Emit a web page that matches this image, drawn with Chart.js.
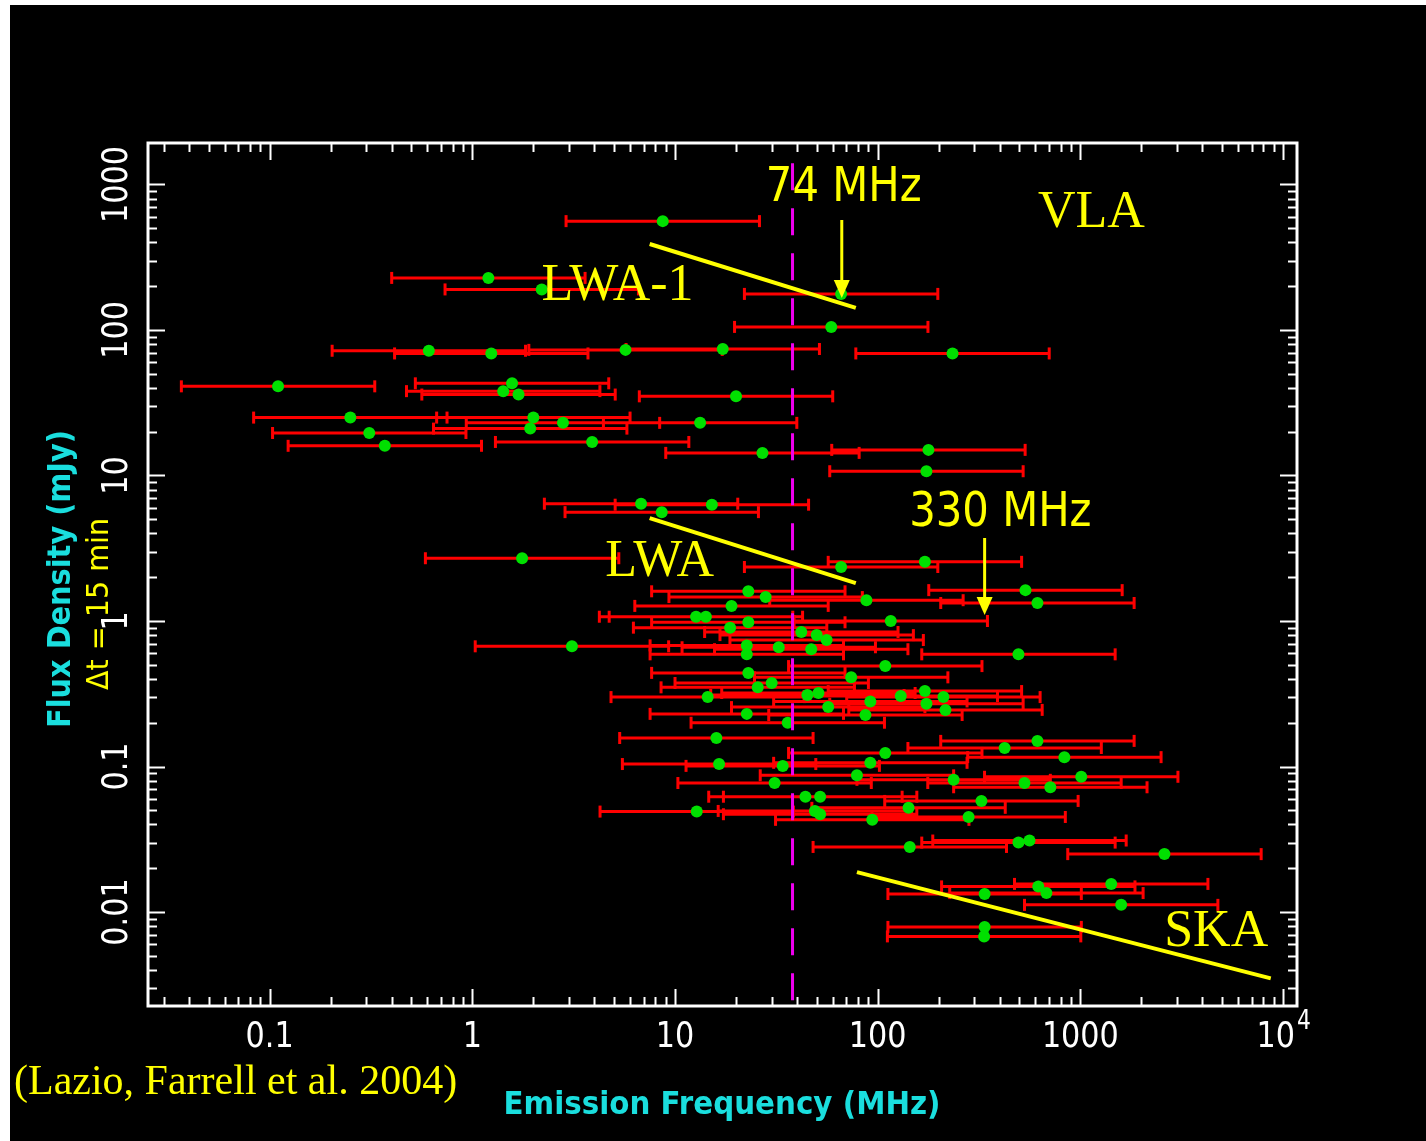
<!DOCTYPE html>
<html>
<head>
<meta charset="utf-8">
<script src="https://cdn.jsdelivr.net/npm/chart.js@4.4.1/dist/chart.umd.min.js"></script>
<style>
html, body { margin: 0; padding: 0; background: #fff; }
canvas { display: block; }
</style>
</head>
<body>
<canvas id="graphique" width="1426" height="1141"></canvas>
<script>
// burst candidates: emission frequency (MHz) and flux density (mJy)
const freqMHz = [
    8.7, 1.2, 2.2, 66, 59, 0.61, 1.24, 5.7, 17.2, 234,
    0.11, 1.57, 1.42, 1.69, 20, 0.25, 2.0, 2.8, 1.93, 13.3,
    0.31, 0.37, 3.9, 27, 178, 174, 6.8, 15.2, 8.6, 1.76,
    66, 171, 23, 28, 88, 536, 614, 19, 12.7, 14.2,
    23, 116, 18.7, 42, 50, 56, 22.6, 32.5, 47, 22.6,
    495, 3.1, 109, 23, 74, 30, 25.6, 14.5, 45, 51,
    92, 171, 211, 130, 57, 174, 216, 22.6, 87, 36,
    16, 423, 614, 109, 834, 16.5, 34, 92, 79, 31,
    237, 530, 711, 1010, 325, 44, 52, 12.8, 49, 52,
    142, 281, 94, 144, 495, 561, 2600, 620, 680, 1420,
    337, 1590, 337, 335
]
const fluxMJy = [
    560, 228, 190, 177, 105, 72, 69, 73, 74, 69,
    41, 43, 38, 36, 35, 25, 25, 23, 21, 23,
    19.6, 16, 17, 14.3, 15, 10.7, 6.4, 6.3, 5.6, 2.7,
    2.35, 2.55, 1.6, 1.46, 1.39, 1.63, 1.33, 1.27, 1.07, 1.07,
    0.98, 1.0, 0.9, 0.84, 0.80, 0.74, 0.68, 0.66, 0.64, 0.59,
    0.59, 0.67, 0.49, 0.44, 0.41, 0.375, 0.35, 0.30, 0.31, 0.32,
    0.28, 0.33, 0.30, 0.305, 0.256, 0.27, 0.245, 0.23, 0.226, 0.20,
    0.157, 0.134, 0.15, 0.124, 0.116, 0.104, 0.101, 0.106, 0.087, 0.077,
    0.081, 0.077, 0.072, 0.085, 0.058, 0.062, 0.062, 0.049, 0.0495, 0.047,
    0.052, 0.045, 0.043, 0.028, 0.030, 0.031, 0.025, 0.015, 0.0135, 0.0156,
    0.0133, 0.0112, 0.0079, 0.0068
]
const freqErrFactor = 3      // every bar runs from f/3 to 3f

const xTickValues = [0.1, 1, 10, 100, 1000, 10000]
const xTickLabels = ['0.1', '1', '10', '100', '1000', '10^4']
const yTickValues = [0.01, 0.1, 1, 10, 100, 1000]
const yTickLabels = ['0.01', '0.1', '1', '10', '100', '1000']

// instrument sensitivity lines [freq, flux]
const lwa1Sens = [[7.5, 390], [78, 142]]
const lwaSens = [[7.5, 5.1], [78, 1.82]]
const skaSens = [[79, 0.0188], [8700, 0.0035]]
const cutoffFreq = 38
const cutoffFlux = [1400, 0.0022]

// arrows [freq, fluxFrom, fluxTo]
const arrows = [[66.5, 570, 166], [337, 3.72, 1.1]]

// labels [text, freq, flux, kind]
const labels = [
    ['74 MHz', 68, 931, 'sans'],
    ['330 MHz', 403, 5.5, 'sans'],
    ['VLA', 1133, 637, 'serif'],
    ['LWA-1', 5.2, 198, 'serif'],
    ['LWA', 8.4, 2.54, 'serif'],
    ['SKA', 4680, 0.0072, 'serif']
]

const YELLOW = '#ffff00'
const CYAN = '#1adede'

function drawText(c, txt, x, y, font, color, opts){
    opts = opts || {}
    c.save()
    c.translate(x, y)
    if (opts.rot) c.rotate(opts.rot)
    c.scale(opts.sx || 1, 1)
    c.font = font
    c.fillStyle = color
    c.textAlign = opts.align || 'center'
    c.textBaseline = opts.baseline || 'middle'
    if (opts.maxWidth) c.fillText(txt, 0, 0, opts.maxWidth)
    else c.fillText(txt, 0, 0)
    c.restore()
}

function drawLogTicks(c, scale, area, horizontal){
    const lo = Math.floor(Math.log10(scale.min))
    const hi = Math.ceil(Math.log10(scale.max))
    c.beginPath()
    for (let d = lo; d <= hi; d++){
        for (let k = 1; k <= 9; k++){
            const v = k * Math.pow(10, d)
            if (v < scale.min || v > scale.max) continue
            const len = k === 1 ? 17 : 9
            const p = Math.round(scale.getPixelForValue(v)) + 0.5
            if (horizontal){
                c.moveTo(p, area.bottom); c.lineTo(p, area.bottom - len)
                c.moveTo(p, area.top); c.lineTo(p, area.top + len)
            } else {
                c.moveTo(area.left, p); c.lineTo(area.left + len, p)
                c.moveTo(area.right, p); c.lineTo(area.right - len, p)
            }
        }
    }
    c.stroke()
}

const decor = {
    id: 'decor',
    beforeDraw(chart){
        const c = chart.ctx
        c.save()
        c.fillStyle = '#ffffff'
        c.fillRect(0, 0, chart.width, chart.height)
        c.fillStyle = '#000000'
        c.fillRect(10, 5, chart.width - 10, chart.height - 5)
        c.restore()
    },
    afterDatasetsDraw(chart){
        const c = chart.ctx
        const a = chart.chartArea
        const xs = chart.scales.x
        const ys = chart.scales.y

        // arrows
        c.save()
        c.strokeStyle = YELLOW
        c.fillStyle = YELLOW
        c.lineWidth = 3
        arrows.forEach(([f, y0, y1]) => {
            const x = xs.getPixelForValue(f)
            const top = ys.getPixelForValue(y0)
            const tip = ys.getPixelForValue(y1)
            c.beginPath()
            c.moveTo(x, top); c.lineTo(x, tip - 14)
            c.stroke()
            c.beginPath()
            c.moveTo(x - 8, tip - 18); c.lineTo(x + 8, tip - 18); c.lineTo(x, tip)
            c.closePath()
            c.fill()
        })
        c.restore()

        // annotation labels
        labels.forEach(([txt, f, v, kind]) => {
            const x = xs.getPixelForValue(f)
            const y = ys.getPixelForValue(v)
            if (kind === 'sans') drawText(c, txt, x, y, '48px "DejaVu Sans"', YELLOW, {sx: 0.87})
            else drawText(c, txt, x, y, '52px "Liberation Serif"', YELLOW)
        })

        // frame and inward ticks
        c.save()
        c.strokeStyle = '#ffffff'
        c.lineWidth = 2
        drawLogTicks(c, xs, a, true)
        drawLogTicks(c, ys, a, false)
        c.lineWidth = 3
        c.strokeRect(a.left, a.top, a.right - a.left, a.bottom - a.top)
        c.restore()

        // tick labels
        const tickFont = '36px "DejaVu Sans"'
        xTickValues.forEach((v, i) => {
            const x = xs.getPixelForValue(v)
            const lab = xTickLabels[i]
            if (lab.includes('^')){
                const [base, exp] = lab.split('^')
                drawText(c, base, x + 12, 1038, tickFont, '#fff', {sx: 0.84, align: 'right'})
                drawText(c, exp, x + 14, 1022, '26px "DejaVu Sans"', '#fff', {sx: 0.84, align: 'left'})
            } else {
                drawText(c, lab, x, 1038, tickFont, '#fff', {sx: 0.84})
            }
        })
        yTickValues.forEach((v, i) => {
            const y = ys.getPixelForValue(v)
            drawText(c, yTickLabels[i], 118, y, tickFont, '#fff', {sx: 0.84, rot: -Math.PI / 2})
        })

        // axis titles and notes
        drawText(c, 'Emission Frequency (MHz)', 722, 1106, 'bold 32px "DejaVu Sans"', CYAN, {maxWidth: 437})
        drawText(c, 'Flux Density (mJy)', 62, 579, 'bold 32px "DejaVu Sans"', CYAN, {maxWidth: 298, rot: -Math.PI / 2})
        drawText(c, '\u0394t = 15 min', 100, 604, '31px "DejaVu Sans"', YELLOW, {maxWidth: 172, rot: -Math.PI / 2})
        drawText(c, '(Lazio, Farrell et al. 2004)', 14, 1083, '42px "Liberation Serif"', YELLOW, {align: 'left'})
    }
}

const errorBars = []
freqMHz.forEach((f, i) => {
    errorBars.push({x: f / freqErrFactor, y: fluxMJy[i]})
    errorBars.push({x: f * freqErrFactor, y: fluxMJy[i]})
    errorBars.push({x: f, y: null})
})
const points = freqMHz.map((f, i) => ({x: f, y: fluxMJy[i]}))

function sensLine(pairs){
    return {
        type: 'line',
        data: pairs.map(p => ({x: p[0], y: p[1]})),
        borderColor: YELLOW,
        borderWidth: 4,
        pointRadius: 0,
        order: 0
    }
}

const config = {
    type: 'scatter',
    data: {
        datasets: [
            sensLine(lwa1Sens),
            sensLine(lwaSens),
            sensLine(skaSens),
            {
                type: 'line',
                data: cutoffFlux.map(v => ({x: cutoffFreq, y: v})),
                borderColor: '#ee00ee',
                borderWidth: 3,
                borderDash: [27, 18],
                pointRadius: 0,
                order: 1
            },
            {
                data: points,
                backgroundColor: '#00e000',
                borderWidth: 0,
                pointRadius: 6,
                pointStyle: 'circle',
                order: 2
            },
            {
                data: errorBars,
                showLine: true,
                spanGaps: false,
                borderColor: '#ff0000',
                borderWidth: 3,
                pointStyle: 'line',
                pointRotation: 90,
                pointRadius: 6,
                pointBorderColor: '#ff0000',
                pointBorderWidth: 3,
                order: 3
            }
        ]
    },
    options: {
        responsive: false,
        animation: false,
        events: [],
        layout: {padding: {left: 148, right: 129, top: 143, bottom: 135}},
        plugins: {legend: {display: false}, tooltip: {enabled: false}},
        scales: {
            x: {type: 'logarithmic', min: 0.0251, max: 11720, display: false},
            y: {type: 'logarithmic', min: 0.00226, max: 1928, display: false}
        }
    },
    plugins: [decor]
}

new Chart(document.getElementById('graphique'), config)
</script>
</body>
</html>
